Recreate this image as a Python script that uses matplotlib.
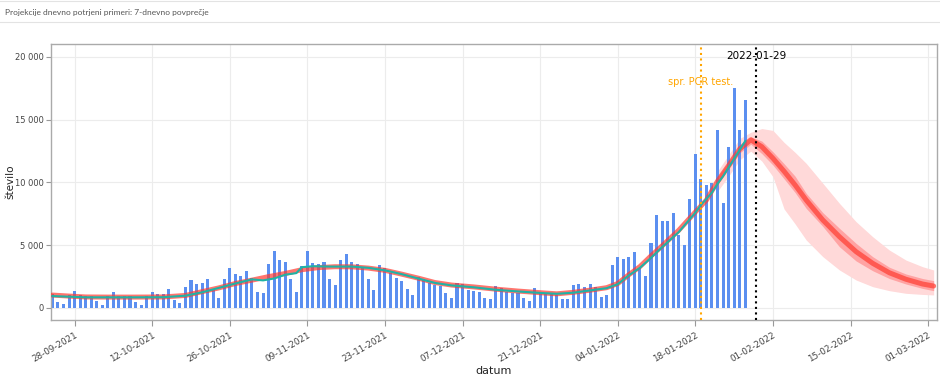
import numpy as np
import pandas as pd
import matplotlib
matplotlib.use('Agg')
import matplotlib.pyplot as plt
import matplotlib.dates as mdates
import matplotlib.ticker as mticker

# dnevno potrjeni primeri, od 2021-09-24 do 2022-01-27
start = '2021-09-24'
cases = [1080, 450, 320, 1030, 1375, 1030, 980, 980, 555, 240,
         980, 1240, 980, 980, 980, 500, 210, 980, 1240, 1110,
         1110, 1480, 635, 370, 1690, 2200, 1880, 1980, 2350, 1480,
         770, 2350, 3150, 2670, 2540, 2980, 2410, 1300, 1160, 3490,
         4550, 3810, 3680, 2350, 1300, 3360, 4520, 3600, 3470, 3680,
         2350, 1830, 3810, 4290, 3680, 3490, 3150, 2280, 1430, 3410,
         3150, 2750, 2410, 2170, 1510, 1030, 2490, 2300, 1960, 1830,
         1730, 1160, 820, 1960, 1880, 1430, 1350, 1300, 820, 710,
         1750, 1560, 1240, 1160, 1160, 820, 580, 1610, 1160, 1160,
         1160, 1030, 710, 710, 1830, 1900, 1690, 1900, 1690, 900,
         1030, 3410, 4070, 3890, 4070, 4500, 3150, 2540, 5190, 7430,
         6900, 6960, 7590, 5790, 5000, 8700, 12300, 10290, 9840, 9950,
         14180, 8390, 12800, 17510, 14180, 16560]

# glajena krivulja + projekcija
fit_dates = ['2021-09-24', '2021-09-27', '2021-09-30', '2021-10-04', '2021-10-09',
             '2021-10-14', '2021-10-18', '2021-10-21', '2021-10-24', '2021-10-27',
             '2021-10-30', '2021-11-02', '2021-11-05', '2021-11-08', '2021-11-11',
             '2021-11-14', '2021-11-17', '2021-11-20', '2021-11-23', '2021-11-26',
             '2021-11-29', '2021-12-02', '2021-12-05', '2021-12-09', '2021-12-13',
             '2021-12-17', '2021-12-21', '2021-12-24', '2021-12-27', '2021-12-30',
             '2022-01-02', '2022-01-04', '2022-01-06', '2022-01-08', '2022-01-10',
             '2022-01-12', '2022-01-15', '2022-01-18', '2022-01-20', '2022-01-22',
             '2022-01-24', '2022-01-26', '2022-01-28', '2022-01-30', '2022-02-01',
             '2022-02-03', '2022-02-05', '2022-02-07', '2022-02-10', '2022-02-13',
             '2022-02-16', '2022-02-19', '2022-02-22', '2022-02-25', '2022-02-28',
             '2022-03-02']
fit_vals = [1030, 950, 880, 870, 870, 880, 1000, 1300, 1600, 1950,
            2220, 2500, 2750, 3050, 3220, 3290, 3280, 3180, 3000, 2700,
            2380, 2030, 1830, 1680, 1500, 1350, 1220, 1130, 1250, 1420,
            1620, 1950, 2650, 3300, 4150, 4950, 6190, 7650, 8600, 10100,
            11350, 12670, 13400, 12850, 11930, 10900, 9800, 8600, 7010, 5680,
            4490, 3560, 2810, 2290, 1910, 1750]

# 7-dnevno povprecje
avg_dates = ['2021-09-24', '2021-09-27', '2021-09-30', '2021-10-04', '2021-10-09',
             '2021-10-14', '2021-10-18', '2021-10-21', '2021-10-24', '2021-10-27',
             '2021-10-30', '2021-11-01', '2021-11-03', '2021-11-05', '2021-11-07',
             '2021-11-08', '2021-11-10', '2021-11-13', '2021-11-17', '2021-11-20',
             '2021-11-23', '2021-11-26', '2021-11-29', '2021-12-02', '2021-12-05',
             '2021-12-09', '2021-12-13', '2021-12-17', '2021-12-21', '2021-12-24',
             '2021-12-27', '2021-12-30', '2022-01-02', '2022-01-04', '2022-01-06',
             '2022-01-08', '2022-01-10', '2022-01-12', '2022-01-15', '2022-01-18',
             '2022-01-19', '2022-01-20', '2022-01-21', '2022-01-22', '2022-01-23',
             '2022-01-24', '2022-01-25', '2022-01-26', '2022-01-27']
avg_vals = [950, 900, 850, 850, 850, 860, 980, 1250, 1600, 1950,
            2280, 2200, 2350, 2650, 2780, 3250, 3330, 3300, 3300, 3200,
            3000, 2700, 2350, 2000, 1800, 1650, 1450, 1320, 1200, 1130,
            1220, 1400, 1580, 1900, 2600, 3200, 4000, 4850, 6050, 7600,
            8200, 8700, 9200, 9900, 10500, 11200, 11900, 12600, 13300]

# intervali projekcije
band_dates = ['2022-01-22', '2022-01-24', '2022-01-26', '2022-01-28', '2022-01-30',
              '2022-02-01', '2022-02-03', '2022-02-05', '2022-02-07', '2022-02-10',
              '2022-02-13', '2022-02-16', '2022-02-19', '2022-02-22', '2022-02-25',
              '2022-02-28', '2022-03-02']
outer_lo = [9300, 10500, 11800, 12500, 11700, 10460, 7900, 6700, 5420, 4090,
            3030, 2230, 1700, 1380, 1170, 1080, 1040]
outer_hi = [10900, 12200, 13500, 14000, 14300, 14150, 13200, 12400, 11530, 9940,
            8340, 6880, 5680, 4620, 3820, 3290, 3030]
inner_lo = [9800, 11050, 12350, 13050, 12300, 11390, 10300, 9200, 7940, 6500,
            4880, 3750, 2970, 2350, 1910, 1560, 1380]
inner_hi = [10400, 11650, 12950, 13650, 13300, 12450, 11500, 10500, 9140, 7600,
            6350, 5150, 4090, 3250, 2710, 2350, 2180]

pcr_date = '2022-01-19'
last_date = '2022-01-29'

bar_x = pd.date_range(start, periods=len(cases), freq='D')
fit_x = pd.to_datetime(fit_dates)
avg_x = pd.to_datetime(avg_dates)
band_x = pd.to_datetime(band_dates)

fig = plt.figure(figsize=(9.4, 3.77), dpi=100)
ax = fig.add_axes([0.0543, 0.1512, 0.9425, 0.7321])

ax.fill_between(band_x, outer_lo, outer_hi, color='#ffd9d9', lw=0, zorder=1)
ax.fill_between(band_x, inner_lo, inner_hi, color='#ffa3a3', lw=0, zorder=1.1)
ax.bar(bar_x, cases, width=0.55, color='#5b8ff0', zorder=2)
ax.plot(fit_x, fit_vals, color='#ff3b30', alpha=0.7, lw=3.6, solid_capstyle='round', zorder=3)
ax.plot(avg_x, avg_vals, color='#1fb3a5', lw=1.5, zorder=4)

ax.axvline(pd.Timestamp(pcr_date), color='#ffa500', ls=':', lw=1.5, zorder=5)
ax.axvline(pd.Timestamp(last_date), color='black', ls=':', lw=1.5, zorder=5)
trans = ax.get_xaxis_transform()
ax.text(pd.Timestamp(pcr_date), 0.862, 'spr. PCR test.', color='#ffa500', fontsize=7,
        ha='center', va='center', transform=trans)
ax.text(pd.Timestamp(last_date), 0.957, last_date, color='black', fontsize=7.5,
        ha='center', va='center', transform=trans)

x0 = pd.Timestamp(start)
ax.set_xlim(x0 - pd.Timedelta(hours=6), x0 + pd.Timedelta(days=159.6))
ax.set_ylim(-956, 21036)

ticks = pd.date_range('2021-09-28', '2022-03-01', freq='14D')
ax.set_xticks(ticks)
ax.xaxis.set_major_formatter(mdates.DateFormatter('%d-%m-%Y'))
plt.setp(ax.get_xticklabels(), rotation=30, ha='right', rotation_mode='anchor')
ax.set_yticks([0, 5000, 10000, 15000, 20000])
ax.yaxis.set_major_formatter(mticker.FuncFormatter(lambda v, p: f'{int(v):,}'.replace(',', ' ')))

ax.tick_params(labelsize=6.3, colors='#999999', labelcolor='#444444', length=4, width=0.8)
ax.tick_params(axis='y', labelsize=6, length=3.5, pad=2)
ax.grid(True, color='#ececec', lw=0.8, zorder=0)
ax.set_axisbelow(True)
for s in ax.spines.values():
    s.set_color('#aaaaaa')
    s.set_linewidth(1)

ax.set_xlabel('datum', fontsize=8, color='#222222', labelpad=2)
ax.set_ylabel('število', fontsize=7.5, color='#222222')
ax.yaxis.set_label_coords(-0.0406, 0.5)

fig.text(5 / 940, 1 - 12.5 / 377, 'Projekcije dnevno potrjeni primeri: 7-dnevno povprečje',
         fontsize=6, color='#555555', family='Lato', va='center', ha='left')
fig.add_artist(plt.Line2D([0, 1], [1 - 22 / 377] * 2, color='#e3e3e3', lw=0.8))
fig.add_artist(plt.Line2D([0, 1], [1 - 1 / 377] * 2, color='#e3e3e3', lw=0.8))

fig.savefig('out.png', dpi=100)
